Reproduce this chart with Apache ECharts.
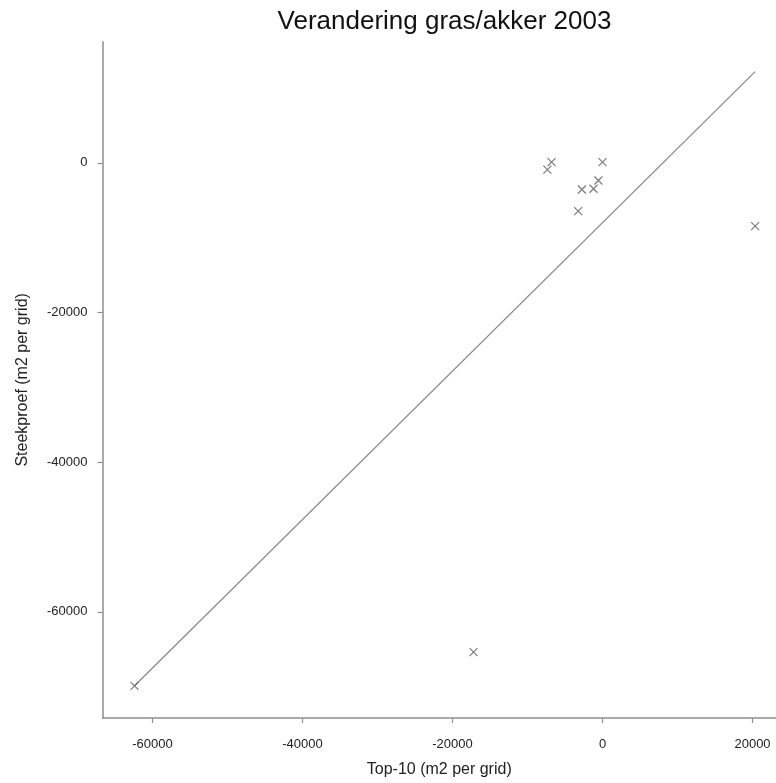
<!DOCTYPE html>
<html>
<head>
<meta charset="utf-8">
<script src="https://cdn.jsdelivr.net/npm/echarts@6/dist/echarts.min.js"></script>
<style>
html,body{margin:0;padding:0;background:#fff;}
#chart{width:776px;height:783px;}
</style>
</head>
<body>
<div id="chart"></div>
<script>
// Data
const titleText = "Verandering gras/akker 2003";
const xAxisName = "Top-10 (m2 per grid)";
const yAxisName = "Steekproef (m2 per grid)";

const pointsX = [-62400, -17200, -6800, -7350, 0, -550, -1200, -2750, -3250, 20350];
const pointsY = [-69900, -65400, 100, -900, 100, -2350, -3450, -3550, -6450, -8450];

const lineX = [-62400, 20350];
const lineY = [-69900, 12200];

const xTicks = [-60000, -40000, -20000, 0, 20000];
const yTicks = [-60000, -40000, -20000, 0];

const xMin = -66670, xMax = 23130;
const yMin = -74200, yMax = 16200;

const chart = echarts.init(document.getElementById('chart'));
const axisColor = '#8e8e8e';
const textColor = '#222';
const font = 'Liberation Sans, Arial, sans-serif';
const plain = v => String(Math.round(v));

chart.setOption({
  animation: false,
  backgroundColor: '#fff',
  graphic: [{
    type: 'text', x: 444.5, y: 22,
    style: { text: titleText, textAlign: 'center', textVerticalAlign: 'middle',
             fontSize: 26, fontFamily: font, fill: '#111' }
  }],
  grid: { left: 102.5, right: 0, top: 41.7, bottom: 63, containLabel: false },
  xAxis: {
    type: 'value', min: xMin, max: xMax,
    name: xAxisName, nameLocation: 'middle', nameGap: 44,
    nameTextStyle: { fontSize: 16, color: textColor, fontFamily: font },
    axisLine: { show: true, onZero: false, lineStyle: { color: axisColor, width: 1.5 } },
    axisTick: { show: true, length: 5, customValues: xTicks, lineStyle: { color: axisColor, width: 1.2 } },
    axisLabel: { customValues: xTicks, margin: 20, fontSize: 13, color: textColor, fontFamily: font, formatter: plain },
    splitLine: { show: false }
  },
  yAxis: {
    type: 'value', min: yMin, max: yMax,
    name: yAxisName, nameLocation: 'middle', nameGap: 72, nameRotate: 90,
    nameTextStyle: { fontSize: 16, color: textColor, fontFamily: font },
    axisLine: { show: true, onZero: false, lineStyle: { color: axisColor, width: 1.5 } },
    axisTick: { show: true, length: 5, customValues: yTicks, lineStyle: { color: axisColor, width: 1.2 } },
    axisLabel: { customValues: yTicks, margin: 15, fontSize: 13, color: textColor, fontFamily: font, formatter: plain },
    splitLine: { show: false }
  },
  series: [
    {
      type: 'line',
      data: lineX.map((x, i) => [x, lineY[i]]),
      showSymbol: false, symbol: 'none',
      lineStyle: { color: '#8a8a8a', width: 1.3 },
      z: 2
    },
    {
      type: 'scatter',
      data: pointsX.map((x, i) => [x, pointsY[i]]),
      symbol: 'path://M0,0L10,10M10,0L0,10',
      symbolSize: 8,
      itemStyle: { color: 'none', borderColor: '#5a5a5a', borderWidth: 1.2 },
      z: 3
    }
  ]
});
</script>
</body>
</html>
